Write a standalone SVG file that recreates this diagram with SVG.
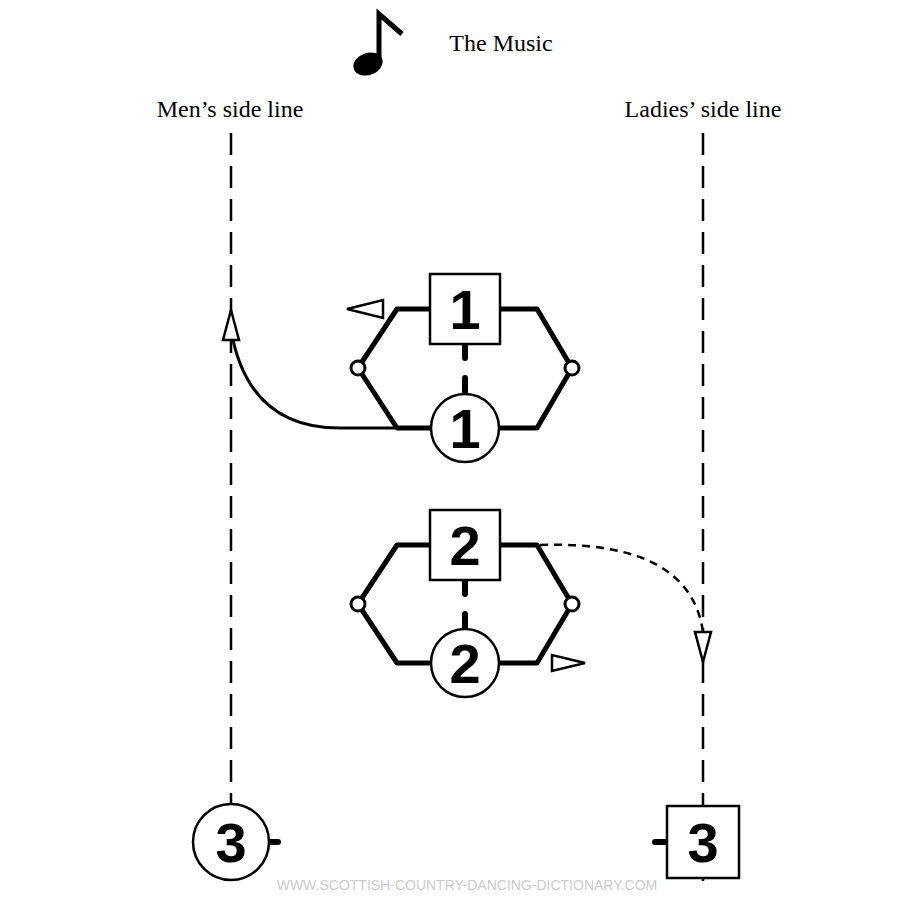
<svg xmlns="http://www.w3.org/2000/svg" width="918" height="908" viewBox="0 0 918 908">
<style>
.lbl{font-family:"Liberation Serif",serif;font-size:24px;fill:#000;text-anchor:middle}
.num{font-family:"Liberation Sans",sans-serif;font-weight:bold;font-size:56px;fill:#000;text-anchor:middle}
.side{stroke:#000;stroke-width:2.5;stroke-dasharray:22,11;fill:none}
.hex{stroke:#000;stroke-width:5;fill:none;stroke-linejoin:round}
.shape{stroke:#000;stroke-width:2.5;fill:#fff}
.hand{stroke:#000;stroke-width:3;fill:#fff}
.mid{stroke:#000;stroke-width:6;stroke-linecap:round}
.arr{stroke:#000;stroke-width:2.5;fill:#fff}
</style>
<rect width="918" height="908" fill="#fff"/>
<g id="music">
<ellipse cx="368" cy="64" rx="15" ry="11" transform="rotate(-20 368 64)" fill="#000"/>
<path d="M379 62 V14 L402 34" stroke="#000" stroke-width="5" fill="none"/>
<text class="lbl" x="501" y="51">The Music</text>
</g>
<text class="lbl" x="230" y="117">Men’s side line</text>
<text class="lbl" x="703" y="117">Ladies’ side line</text>
<g id="connectors">
<line class="side" x1="231" y1="133" x2="231" y2="892"/>
<line class="side" x1="703" y1="133" x2="703" y2="892"/>
<path d="M395 428 H340 Q248 428 231 330" stroke="#000" stroke-width="3" fill="none"/>
<polygon class="arr" points="231,310 223,340 239,340"/>
<polygon class="arr" points="347,309 383,300 383,318"/>
<path d="M540 545 Q690 540 703 632" stroke="#000" stroke-width="2.5" stroke-dasharray="8,6" fill="none"/>
<polygon class="arr" points="703,662 695,632 711,632"/>
<polygon class="arr" points="585,663 552,655 552,671"/>
</g>
<g id="couple1">
<path class="hex" d="M430 309 H397 L358 368 L397 428 H432 M500 309 H537 L572 368 L537 428 H498"/>
<line class="mid" x1="465" y1="344" x2="465" y2="358"/>
<line class="mid" x1="465" y1="378" x2="465" y2="394"/>
<circle class="hand" cx="358" cy="368" r="7"/>
<circle class="hand" cx="572" cy="368" r="7"/>
<rect class="shape" x="430" y="274" width="70" height="70"/>
<text class="num" x="465" y="329">1</text>
<circle class="shape" cx="465" cy="428" r="34"/>
<text class="num" x="465" y="448">1</text>
</g>
<g id="couple2">
<path class="hex" d="M430 545 H397 L358 604 L397 663 H432 M500 545 H537 L572 604 L537 663 H498"/>
<line class="mid" x1="465" y1="580" x2="465" y2="594"/>
<line class="mid" x1="465" y1="614" x2="465" y2="630"/>
<circle class="hand" cx="358" cy="604" r="7"/>
<circle class="hand" cx="572" cy="604" r="7"/>
<rect class="shape" x="430" y="510" width="70" height="70"/>
<text class="num" x="465" y="565">2</text>
<circle class="shape" cx="465" cy="663" r="34"/>
<text class="num" x="465" y="683">2</text>
</g>
<g id="man3">
<line class="mid" x1="268" y1="842" x2="278" y2="842"/>
<circle class="shape" cx="231" cy="842" r="38"/>
<text class="num" x="231" y="862">3</text>
</g>
<g id="lady3">
<line class="mid" x1="655" y1="842" x2="665" y2="842"/>
<rect class="shape" x="667" y="806" width="72" height="72"/>
<text class="num" x="703" y="862">3</text>
</g>
<text x="467" y="890" font-family="Liberation Sans,sans-serif" font-size="14" fill="#ccc" text-anchor="middle">WWW.SCOTTISH-COUNTRY-DANCING-DICTIONARY.COM</text>
</svg>
